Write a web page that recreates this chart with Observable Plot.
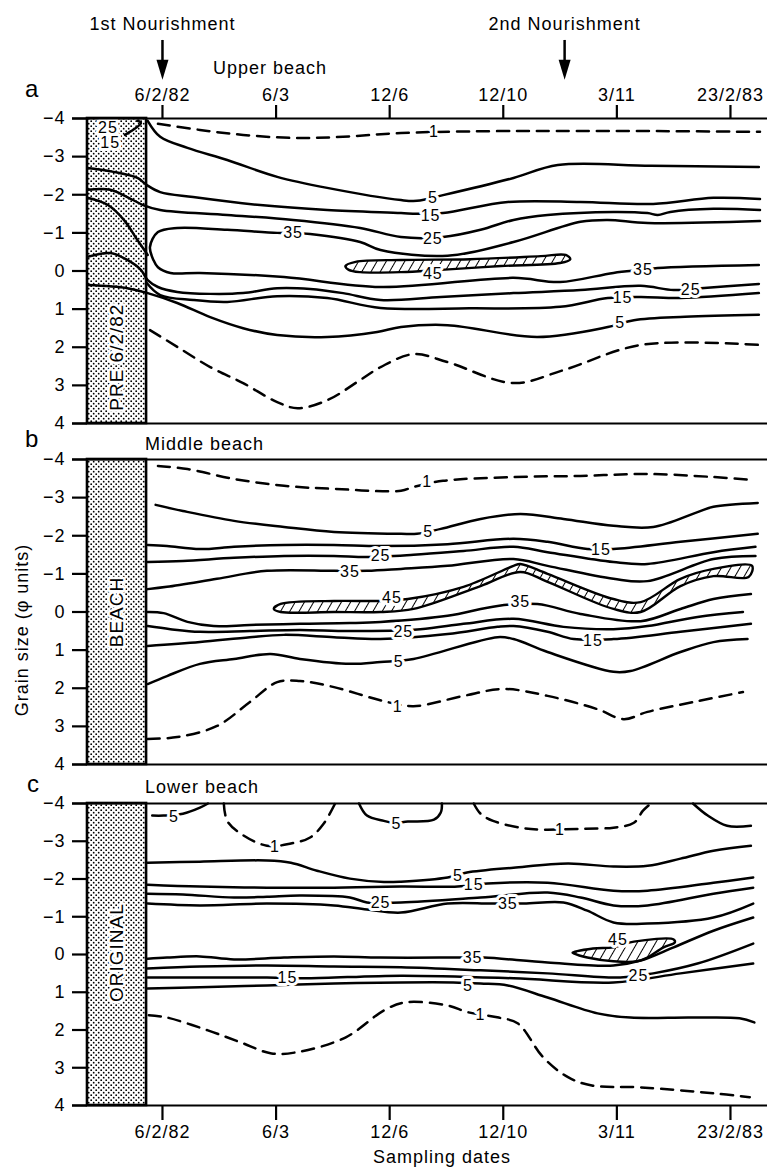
<!DOCTYPE html>
<html><head><meta charset="utf-8">
<script src="https://cdn.jsdelivr.net/npm/d3@7"></script>
<script src="https://cdn.jsdelivr.net/npm/@observablehq/plot@0.6"></script>
<style>
html,body{margin:0;padding:0;background:#fff;}
#page{position:relative;width:771px;height:1171px;overflow:hidden;font-family:"Liberation Sans",Arial,Helvetica,sans-serif;color:#000;}
.lbl{position:absolute;white-space:nowrap;font-size:18px;line-height:18px;letter-spacing:1px;}
.pl{position:absolute;white-space:nowrap;font-size:24px;line-height:24px;}
</style></head><body>
<div id="page">
<svg width="0" height="0" style="position:absolute;left:0;top:0"><defs>
  <pattern id="stipple" width="5" height="5" patternUnits="userSpaceOnUse">
    <circle cx="1.2" cy="1.2" r="0.9" fill="#000"/><circle cx="3.7" cy="3.7" r="0.9" fill="#000"/>
  </pattern>
  <pattern id="hatch" width="8" height="10" patternUnits="userSpaceOnUse" patternTransform="rotate(30)">
    <line x1="0" y1="0" x2="0" y2="10" stroke="#000" stroke-width="2"/>
  </pattern>
</defs></svg>
<div class="pl" style="left:25px;top:77px">a</div>
<div class="pl" style="left:25px;top:427px">b</div>
<div class="pl" style="left:27px;top:772px">c</div>
<div class="lbl" style="left:213px;top:59px">Upper beach</div>
<div class="lbl" style="left:145px;top:435px">Middle beach</div>
<div class="lbl" style="left:145px;top:778px">Lower beach</div>
<div class="lbl" style="left:442px;top:1148px;transform:translateX(-50%)">Sampling dates</div>
<div class="lbl" style="left:22px;top:630px;transform:translate(-50%,-50%) rotate(-90deg)">Grain size (φ units)</div>
</div>
<script>
// ---------- axes / categories ----------
const dateTicks = [0, 1, 2, 3, 4, 5];
const dateLabels = ["6/2/82", "6/3", "12/6", "12/10", "3/11", "23/2/83"];
const phiTicks = [-4, -3, -2, -1, 0, 1, 2, 3, 4];
const nourishments = [{t: 0, label: "1st Nourishment"}, {t: 3.54, label: "2nd Nourishment"}];
const preColumn = [{t0: -0.66, t1: -0.14}];
const columnNames = ["PRE 6/2/82", "BEACH", "ORIGINAL"];
const columnNamePhi = [2.26, 0, -0.05];

// ---------- panel a : Upper beach (t = sampling index, phi) ----------
const a1Top = [[-0.04,-3.86],[0.33,-3.70],[0.71,-3.57],[1.15,-3.49],[1.59,-3.52],[2.10,-3.62],[2.98,-3.67],[3.48,-3.67],[4.30,-3.67],[5.26,-3.65]];
const a5Top = [[-0.13,-3.94],[-0.02,-3.52],[0.22,-3.23],[0.57,-2.91],[1.01,-2.47],[1.45,-2.18],[2.10,-1.86],[2.24,-1.84],[2.47,-1.99],[3.09,-2.44],[3.48,-2.78],[4.30,-2.76],[5.25,-2.73]];
const a15Top = [[-0.66,-2.70],[-0.43,-2.60],[-0.22,-2.44],[-0.14,-2.26],[-0.02,-2.07],[0.27,-1.94],[0.86,-1.73],[1.45,-1.60],[2.10,-1.52],[2.24,-1.50],[2.47,-1.52],[3.04,-1.81],[3.68,-1.81],[4.32,-1.76],[4.85,-1.92],[5.26,-1.89]];
const a25Top = [[-0.66,-2.13],[-0.46,-2.13],[-0.31,-1.94],[-0.17,-1.73],[-0.02,-1.60],[0.57,-1.47],[1.15,-1.34],[1.74,-1.13],[2.10,-0.89],[2.47,-0.89],[2.80,-1.08],[3.09,-1.34],[3.39,-1.47],[3.97,-1.55],[4.27,-1.52],[4.36,-1.47],[4.47,-1.55],[4.85,-1.63],[5.26,-1.60]];
const a35Bar = [[-0.66,-1.92],[-0.48,-1.73],[-0.34,-1.34],[-0.22,-0.81],[-0.13,-0.42]];
const a35Loop = [[5.26,-1.31],[4.27,-1.26],[3.92,-1.34],[3.68,-1.29],[3.09,-0.76],[2.51,-0.40],[1.92,-0.55],[1.74,-0.76],[1.30,-0.97],[1.15,-1.00],[1.01,-1.00],[0.57,-1.08],[0.13,-1.13],[-0.04,-1.02],[-0.11,-0.63],[-0.08,-0.29],[-0.04,-0.10],[0.07,0.05],[0.33,0.05],[1.07,0.16],[1.92,0.42],[3.09,0.18],[3.50,0.29],[3.97,0.05],[4.23,-0.03],[4.36,-0.08],[5.25,-0.16]];
const a25Low = [[-0.66,-0.37],[-0.46,-0.47],[-0.31,-0.29],[-0.19,-0.03],[-0.13,0.24],[-0.04,0.42],[0.13,0.55],[0.42,0.60],[0.71,0.58],[1.01,0.45],[1.30,0.47],[1.59,0.58],[1.92,0.76],[2.45,0.68],[3.09,0.58],[3.68,0.50],[4.21,0.39],[4.50,0.50],[4.74,0.45],[5.25,0.34]];
const a15Low = [[-0.14,0.31],[-0.02,0.63],[0.27,0.76],[0.57,0.81],[1.01,0.66],[1.45,0.71],[1.92,0.97],[2.70,0.98],[3.50,0.94],[3.92,0.71],[4.21,0.68],[4.56,0.71],[5.25,0.58]];
const a5Low = [[-0.66,0.37],[-0.31,0.45],[-0.13,0.58],[0.13,0.84],[0.42,1.21],[0.71,1.50],[1.01,1.68],[1.45,1.73],[1.89,1.60],[2.10,1.47],[2.51,1.42],[3.30,1.73],[3.92,1.47],[4.15,1.29],[4.60,1.20],[5.25,1.15]];
const a1Low = [[-0.11,1.55],[0.13,1.99],[0.42,2.52],[0.71,2.94],[1.01,3.44],[1.19,3.60],[1.45,3.39],[1.74,2.86],[1.92,2.52],[2.21,2.18],[2.51,2.39],[3.09,2.94],[3.53,2.60],[4.21,1.94],[5.26,1.94]];
const aBarFlick = [[-0.33,-3.57],[-0.19,-3.88],[-0.22,-3.94]];
const aPeak45 = [[1.61,-0.13],[1.70,-0.24],[2.10,-0.29],[2.71,-0.31],[3.33,-0.39],[3.55,-0.42],[3.59,-0.31],[3.50,-0.21],[2.98,-0.13],[2.45,-0.03],[2.10,0.03],[1.74,0.03],[1.64,-0.03]];
const aLabels = [[2.39,-3.65,"1"],[2.38,-1.92,"5"],[2.36,-1.44,"15"],[2.38,-0.84,"25"],[1.15,-1.00,"35"],[2.38,0.07,"45"],[4.23,-0.03,"35"],[4.65,0.50,"25"],[4.05,0.71,"15"],[4.03,1.36,"5"],[-0.48,-3.75,"25"],[-0.46,-3.36,"15"]];

// ---------- panel b : Middle beach ----------
const b1Top = [[-0.04,-3.83],[0.22,-3.75],[0.63,-3.49],[1.07,-3.31],[1.51,-3.23],[2.10,-3.18],[2.21,-3.28],[2.47,-3.44],[3.09,-3.54],[3.68,-3.57],[4.27,-3.62],[4.85,-3.54],[5.20,-3.46]];
const b5Top = [[-0.06,-2.81],[0.18,-2.65],[0.63,-2.39],[1.07,-2.23],[1.51,-2.10],[2.10,-2.05],[2.24,-2.05],[2.45,-2.18],[2.80,-2.44],[3.15,-2.57],[3.53,-2.44],[3.97,-2.26],[4.32,-2.23],[4.71,-2.62],[4.85,-2.76],[5.24,-2.86]];
const b15Top = [[-0.13,-1.76],[0.04,-1.73],[0.33,-1.65],[0.63,-1.71],[1.07,-1.76],[1.51,-1.76],[1.92,-1.73],[2.51,-1.78],[3.09,-1.92],[3.39,-1.84],[3.74,-1.65],[3.97,-1.65],[4.56,-1.84],[5.24,-2.05]];
const b25Top = [[-0.13,-1.31],[0.18,-1.34],[0.63,-1.42],[1.07,-1.47],[1.51,-1.47],[1.80,-1.44],[2.21,-1.50],[2.65,-1.60],[3.09,-1.71],[3.39,-1.57],[3.97,-1.31],[4.27,-1.26],[4.85,-1.57],[5.22,-1.71]];
const b35Top = [[-0.13,-0.60],[0.04,-0.66],[0.48,-0.87],[0.92,-1.08],[1.51,-1.08],[1.80,-1.08],[2.10,-1.13],[2.51,-1.21],[3.09,-1.39],[3.39,-1.21],[3.97,-0.87],[4.27,-0.81],[4.85,-1.39],[5.22,-1.47]];
const b35Low = [[-0.13,0],[0.01,0.03],[0.22,0.26],[0.45,0.37],[0.77,0.34],[1.21,0.31],[1.65,0.29],[1.92,0.26],[2.51,0.10],[2.95,-0.16],[3.30,-0.21],[3.68,0.05],[4.21,0.24],[4.56,-0.08],[4.85,-0.34],[5.18,-0.47]];
const b25Low = [[-0.13,0.37],[0.07,0.45],[0.33,0.52],[0.77,0.50],[1.21,0.47],[1.65,0.50],[2.27,0.45],[2.65,0.31],[3.09,0.18],[3.53,0.39],[3.97,0.45],[4.27,0.37],[4.71,0.13],[5.11,0]];
const b15Low = [[-0.13,0.89],[0.33,0.79],[0.77,0.66],[1.07,0.60],[1.51,0.66],[1.92,0.71],[2.51,0.58],[2.95,0.39],[3.09,0.37],[3.39,0.52],[3.62,0.71],[3.97,0.71],[4.56,0.52],[5.18,0.31]];
const b5Low = [[-0.13,1.89],[0.04,1.68],[0.33,1.36],[0.63,1.23],[0.95,1.10],[1.21,1.23],[1.65,1.36],[1.92,1.31],[2.21,1.23],[2.95,0.66],[3.09,0.71],[3.39,1.05],[3.97,1.57],[4.12,1.55],[4.56,1.05],[4.85,0.79],[5.15,0.71]];
const b1Low = [[-0.13,3.33],[0.13,3.28],[0.48,2.99],[0.77,2.36],[1.01,1.84],[1.21,1.81],[1.51,1.97],[1.95,2.34],[2.21,2.47],[2.65,2.20],[3.00,2.02],[3.39,2.20],[3.83,2.55],[4.06,2.81],[4.27,2.62],[4.71,2.34],[5.11,2.10]];
const bPeak45 = [[0.98,-0.08],[1.04,-0.21],[1.51,-0.29],[1.92,-0.29],[2.16,-0.34],[2.65,-0.66],[3.09,-1.21],[3.15,-1.26],[3.39,-1.00],[3.97,-0.34],[4.21,-0.26],[4.56,-0.87],[4.85,-1.13],[5.19,-1.21],[5.16,-0.92],[4.85,-0.94],[4.56,-0.68],[4.21,0],[3.97,-0.08],[3.39,-0.79],[3.15,-1.05],[2.80,-0.68],[2.21,-0.08],[1.92,0],[1.51,0],[1.04,0]];
const bLabels = [[2.33,-3.41,"1"],[2.34,-2.10,"5"],[3.86,-1.63,"15"],[1.92,-1.47,"25"],[1.65,-1.05,"35"],[2.02,-0.36,"45"],[3.15,-0.26,"35"],[2.12,0.52,"25"],[3.79,0.76,"15"],[2.08,1.31,"5"],[2.07,2.49,"1"]];

// ---------- panel c : Lower beach ----------
const c5TopLeft = [[-0.09,-3.68],[0.01,-3.68],[0.18,-3.73],[0.33,-3.89],[0.40,-4.0]];
const c1Dome = [[0.54,-4.0],[0.57,-3.54],[0.69,-3.20],[0.92,-2.88],[1.13,-2.94],[1.30,-3.10],[1.42,-3.47],[1.52,-4.0]];
const c5Dome = [[1.73,-4.0],[1.80,-3.68],[1.95,-3.54],[2.03,-3.49],[2.16,-3.52],[2.39,-3.57],[2.45,-3.76],[2.46,-4.0]];
const c1Dome2 = [[2.74,-4.0],[2.80,-3.73],[2.91,-3.54],[3.15,-3.36],[3.33,-3.31],[3.68,-3.33],[3.97,-3.36],[4.15,-3.49],[4.23,-3.81],[4.30,-4.0]];
const c5TopRight = [[4.67,-4.0],[4.80,-3.68],[4.97,-3.41],[5.18,-3.41]];
const c5Top = [[-0.13,-2.43],[0.33,-2.46],[0.92,-2.49],[1.13,-2.43],[1.36,-2.22],[1.65,-2.01],[1.95,-1.92],[2.10,-1.93],[2.51,-2.04],[2.68,-2.17],[3.09,-2.30],[3.57,-2.41],[3.97,-2.33],[4.27,-2.35],[4.56,-2.54],[4.85,-2.75],[5.18,-2.88]];
const c15Top = [[-0.13,-1.85],[0.33,-1.80],[0.92,-1.77],[1.51,-1.77],[2.10,-1.80],[2.60,-1.80],[2.86,-1.88],[3.39,-1.90],[3.97,-1.69],[4.27,-1.69],[4.85,-1.90],[5.20,-2.04]];
const c25Top = [[-0.13,-1.61],[0.18,-1.59],[0.63,-1.51],[0.92,-1.53],[1.21,-1.56],[1.65,-1.51],[1.80,-1.38],[2.10,-1.38],[2.80,-1.51],[3.39,-1.64],[3.68,-1.51],[3.97,-1.30],[4.27,-1.30],[4.85,-1.61],[5.20,-1.77]];
const c35Top = [[-0.13,-1.35],[0.33,-1.30],[0.92,-1.35],[1.51,-1.30],[1.80,-1.19],[2.10,-1.11],[2.51,-1.35],[2.89,-1.35],[3.18,-1.35],[3.53,-1.38],[3.74,-1.16],[3.97,-0.85],[4.27,-0.82],[4.85,-0.98],[5.20,-1.35]];
const c35Low = [[-0.13,0.11],[0.04,0.08],[0.33,0.05],[0.63,0.13],[1.07,0.08],[1.51,0.05],[1.92,0.08],[2.62,0.08],[2.83,0.08],[3.39,0.21],[3.97,0.29],[4.21,0.16],[4.50,-0.19],[4.85,-0.63],[5.20,-0.98]];
const c25Low = [[-0.13,0.37],[0.33,0.32],[0.92,0.29],[1.51,0.32],[2.10,0.34],[2.80,0.42],[3.39,0.50],[4.03,0.61],[4.32,0.50],[4.71,0.24],[5.20,-0.29]];
const c15Low = [[-0.13,0.61],[0.92,0.61],[1.28,0.63],[2.10,0.56],[3.09,0.63],[3.97,0.74],[4.56,0.50],[5.20,0.24]];
const c5Low = [[-0.13,0.90],[0.33,0.87],[0.92,0.82],[1.51,0.77],[2.10,0.74],[2.56,0.74],[2.80,0.77],[3.04,0.82],[3.39,1.14],[3.83,1.56],[4.12,1.67],[4.65,1.67],[5.08,1.69],[5.21,1.80]];
const c1Low = [[-0.12,1.61],[0.04,1.67],[0.40,2.01],[0.69,2.33],[0.96,2.62],[1.18,2.59],[1.61,2.20],[1.95,1.48],[2.13,1.27],[2.51,1.35],[2.69,1.53],[2.96,1.67],[3.13,1.83],[3.35,2.72],[3.57,3.25],[3.78,3.47],[4.21,3.52],[4.86,3.68],[5.17,3.78]];
const cPeak45 = [[3.61,-0.05],[3.79,-0.16],[3.97,-0.19],[4.15,-0.34],[4.50,-0.40],[4.51,-0.32],[4.41,-0.19],[4.27,0.08],[4.18,0.18],[3.97,0.18],[3.74,0.08],[3.62,-0.03]];
const cLabels = [[0.10,-3.65,"5"],[0.99,-2.86,"1"],[2.06,-3.47,"5"],[3.50,-3.31,"1"],[2.60,-2.09,"5"],[2.74,-1.85,"15"],[1.92,-1.38,"25"],[3.04,-1.35,"35"],[4.01,-0.40,"45"],[2.73,0.08,"35"],[1.10,0.63,"15"],[4.19,0.56,"25"],[2.69,0.82,"5"],[2.80,1.61,"1"]];

// [level, dashed, points]
const linesA = [[1,true,a1Top],[5,false,a5Top],[15,false,a15Top],[25,false,a25Top],[35,false,a35Bar],[35,false,a35Loop],[25,false,a25Low],[15,false,a15Low],[5,false,a5Low],[1,true,a1Low],[0,false,aBarFlick]];
const linesB = [[1,true,b1Top],[5,false,b5Top],[15,false,b15Top],[25,false,b25Top],[35,false,b35Top],[35,false,b35Low],[25,false,b25Low],[15,false,b15Low],[5,false,b5Low],[1,true,b1Low]];
const linesC = [[5,false,c5TopLeft],[1,true,c1Dome],[5,false,c5Dome],[1,true,c1Dome2],[5,false,c5TopRight],[5,false,c5Top],[15,false,c15Top],[25,false,c25Top],[35,false,c35Top],[35,false,c35Low],[25,false,c25Low],[15,false,c15Low],[5,false,c5Low],[1,true,c1Low]];

// ---------- drawing ----------
const FONT = '"Liberation Sans", Arial, Helvetica, sans-serif';
const tMin = -0.792, tMax = 5.326;
const colMid = (preColumn[0].t0 + preColumn[0].t1) / 2;
const arrowHead = {draw(ctx) { ctx.moveTo(0, 10); ctx.lineTo(-6, -10); ctx.lineTo(6, -10); ctx.closePath(); }};

function toRows(lines) {
  const out = [];
  lines.forEach(([level, dashed, pts], id) => pts.forEach(([t, phi]) => out.push({id, level, dashed, t, phi})));
  return out;
}

function makePanel(cfg) {
  const rows = toRows(cfg.lines);
  const marks = [
    Plot.rect(preColumn, {x1: "t0", x2: "t1", y1: -4, y2: 4, fill: "url(#stipple)", stroke: "black", strokeWidth: 2.6}),
    Plot.line(rows.filter(d => !d.dashed), {x: "t", y: "phi", z: "id", stroke: "black", strokeWidth: 2.5, curve: "catmull-rom"}),
    Plot.line(rows.filter(d => d.dashed), {x: "t", y: "phi", z: "id", stroke: "black", strokeWidth: 2.5, strokeDasharray: "12,8", curve: "catmull-rom"}),
    Plot.line(cfg.peak.map(([t, phi]) => ({t, phi})), {x: "t", y: "phi", fill: "url(#hatch)", stroke: "black", strokeWidth: 2.4, curve: "catmull-rom-closed"}),
    Plot.text(cfg.labels, {x: d => d[0], y: d => d[1], text: d => d[2], fontSize: 16, fill: "black", stroke: "white", strokeWidth: 6, paintOrder: "stroke", strokeLinejoin: "round"}),
    Plot.text([columnNames[cfg.k]], {x: colMid, y: columnNamePhi[cfg.k], text: d => d, rotate: -90, fontSize: 19, fill: "black", stroke: "white", strokeWidth: 5, paintOrder: "stroke", strokeLinejoin: "round"}),
    Plot.ruleY([-4, 4], {strokeWidth: 2.2}),
    Plot.ruleY(phiTicks, {x1: tMin, x2: preColumn[0].t0, strokeWidth: 2.2}),
    Plot.axisY({ticks: phiTicks, tickSize: 0, tickPadding: 7, fontSize: 18, label: null}),
    ...cfg.extra
  ];
  const svg = Plot.plot({
    width: 771, height: cfg.height,
    marginLeft: 72, marginRight: 4, marginTop: cfg.mt, marginBottom: cfg.mb,
    x: {domain: [tMin, tMax], ...(cfg.noX ? {axis: null} : {})},
    y: {domain: [-4, 4], reverse: true},
    style: {background: "transparent", overflow: "visible", fontFamily: FONT, letterSpacing: "1px", color: "black"},
    marks
  });
  svg.style.position = "absolute";
  svg.style.left = "0px";
  svg.style.top = cfg.top + "px";
  document.getElementById("page").appendChild(svg);
}

makePanel({k: 0, lines: linesA, peak: aPeak45, labels: aLabels, top: 0, height: 423, mt: 118, mb: 0, extra: [
  Plot.axisX({anchor: "top", ticks: dateTicks, tickFormat: i => dateLabels[i], tickSize: 14, tickPadding: 4, strokeWidth: 2.2, fontSize: 18, label: null}),
  Plot.link(nourishments, {x1: "t", x2: "t", y1: -6.06, y2: -5.45, stroke: "black", strokeWidth: 2.5}),
  Plot.dot(nourishments, {x: "t", y: -5.28, symbol: arrowHead, r: 5, fill: "black", stroke: "none"}),
  Plot.text(nourishments, {x: "t", y: -6.48, text: "label", fontSize: 18, fill: "black"})
]});
makePanel({k: 1, lines: linesB, peak: bPeak45, labels: bLabels, top: 423, height: 341, mt: 36, mb: 0, noX: true, extra: []});
makePanel({k: 2, lines: linesC, peak: cPeak45, labels: cLabels, top: 764, height: 407, mt: 39, mb: 66, extra: [
  Plot.axisX({anchor: "bottom", ticks: dateTicks, tickFormat: i => dateLabels[i], tickSize: 15, tickPadding: 5, strokeWidth: 2.2, fontSize: 18, label: null})
]});
</script>
</body></html>
